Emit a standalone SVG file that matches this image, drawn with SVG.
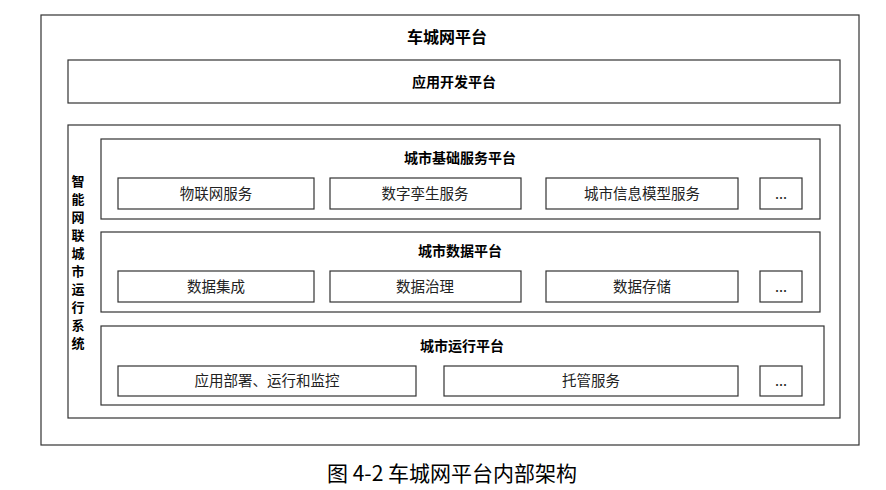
<svg xmlns="http://www.w3.org/2000/svg" width="886" height="490" viewBox="0 0 886 490">
<style>
rect{fill:#fff;stroke:#333;stroke-width:1.2}
text{font-family:"Noto Sans CJK SC","Noto Sans",sans-serif;fill:#000;text-anchor:middle}
.b{font-weight:bold;font-size:14px}
.v{font-weight:bold;font-size:13px}
.n{font-size:14.5px;fill:#222}
</style>
<rect x="0" y="0" width="886" height="490" style="fill:#fff;stroke:none"/>
<g id="outer"><rect x="41" y="15" width="818" height="430"/><text class="b" x="447" y="43" style="font-size:16px">车城网平台</text></g>
<g id="app"><rect x="68" y="60" width="772" height="43"/><text class="b" x="454" y="87">应用开发平台</text></g>
<g id="system"><rect x="68" y="125" width="772" height="293"/>
<text class="v" x="78" y="186">智</text><text class="v" x="78" y="204">能</text><text class="v" x="78" y="222">网</text><text class="v" x="78" y="240">联</text><text class="v" x="78" y="258">城</text><text class="v" x="78" y="276">市</text><text class="v" x="78" y="294">运</text><text class="v" x="78" y="312">行</text><text class="v" x="78" y="330">系</text><text class="v" x="78" y="348">统</text></g>
<g id="basic"><rect x="101" y="139" width="719" height="80"/><text class="b" x="460" y="163">城市基础服务平台</text>
<rect x="118" y="178" width="196" height="31"/><text class="n" x="216" y="199">物联网服务</text>
<rect x="330" y="178" width="191" height="31"/><text class="n" x="425" y="199">数字孪生服务</text>
<rect x="546" y="178" width="192" height="31"/><text class="n" x="642" y="199">城市信息模型服务</text>
<rect x="760" y="178" width="42" height="31"/><text class="n" x="781" y="199">...</text></g>
<g id="data"><rect x="101" y="232" width="719" height="80"/><text class="b" x="460" y="256">城市数据平台</text>
<rect x="118" y="271" width="196" height="31"/><text class="n" x="216" y="292">数据集成</text>
<rect x="330" y="271" width="191" height="31"/><text class="n" x="425" y="292">数据治理</text>
<rect x="546" y="271" width="192" height="31"/><text class="n" x="642" y="292">数据存储</text>
<rect x="760" y="271" width="42" height="31"/><text class="n" x="781" y="292">...</text></g>
<g id="run"><rect x="101" y="326" width="723" height="79"/><text class="b" x="462" y="351">城市运行平台</text>
<rect x="118" y="366" width="298" height="30"/><text class="n" x="267" y="386">应用部署、运行和监控</text>
<rect x="444" y="366" width="294" height="30"/><text class="n" x="591" y="386">托管服务</text>
<rect x="760" y="366" width="42" height="30"/><text class="n" x="781" y="386">...</text></g>
<g id="connectors"></g>
<text x="452" y="481" style="font-size:21px">图 4-2 车城网平台内部架构</text>
</svg>
